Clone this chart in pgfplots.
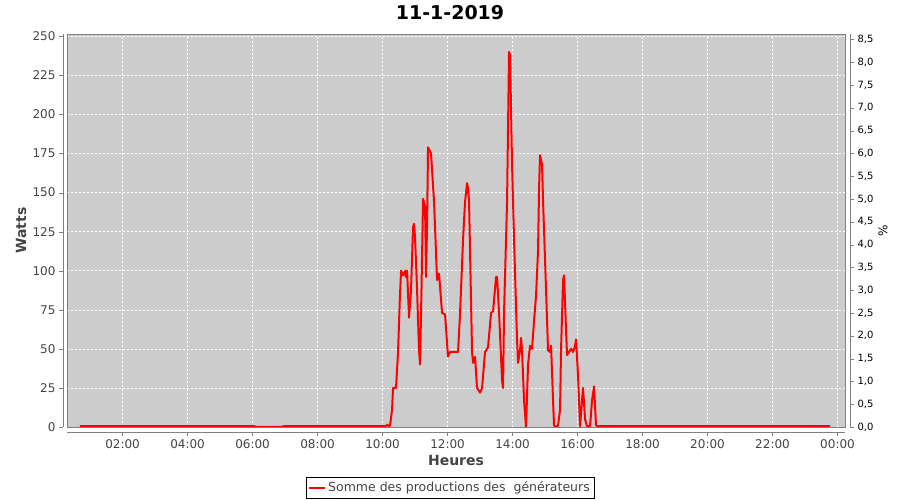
\documentclass[border=0pt]{standalone}
\usepackage{fontspec}
\setmainfont{DejaVu Sans}
\usepackage{pgfplots}
\pgfplotsset{compat=1.18}
\definecolor{plotbg}{RGB}{204,204,204}
\definecolor{axgray}{RGB}{128,128,128}
\definecolor{txtgray}{RGB}{68,68,68}
\definecolor{linered}{RGB}{255,0,0}
\begin{document}
\begin{tikzpicture}
\begin{axis}[name=ax,
 scale only axis, width=778pt, height=393pt,
 xmin=0.29, xmax=24.23, ymin=0, ymax=251.5,
 xtick={2,4,...,24},
 xticklabels={02:00,04:00,06:00,08:00,10:00,12:00,14:00,16:00,18:00,20:00,22:00,00:00},
 ytick={0,25,...,250},
 xtick pos=left, ytick pos=left,
 tick align=outside, major tick length=4pt,
 axis line style={draw=none},
 axis background/.style={fill=plotbg},
 grid=major,
 major grid style={white, line width=0.6pt, dash pattern=on 2pt off 2pt},
 xtick style={draw=axgray, yshift=-5pt},
 ytick style={draw=axgray, xshift=-4pt},
 tick label style={font=\fontsize{12}{14}\selectfont, text=txtgray},
 xticklabel style={yshift=-5pt},
 yticklabel style={xshift=-4pt},
 /pgf/number format/assume math mode=true,
 every axis title shift=0pt,
 title={11-1-2019},
 title style={font=\fontsize{19}{21}\selectfont\bfseries, at={(axis description cs:0.4923,1.0534)}, anchor=center},
 xlabel={Heures},
 xlabel style={font=\fontsize{14}{16}\selectfont\bfseries, text=txtgray, at={(axis description cs:0.5,-0.084)}, anchor=center},
 ylabel={Watts},
 ylabel style={font=\fontsize{14}{16}\selectfont\bfseries, text=txtgray, at={(axis description cs:-0.059,0.5)}, anchor=center},
 legend style={at={(axis description cs:0.4923,-0.154)}, anchor=center, draw=black, fill=white, font=\fontsize{12.5}{15}\selectfont, text=txtgray, inner xsep=2pt, inner ysep=2.5pt},
 legend cell align=left,
 legend image code/.code={\draw[#1] (0pt,0pt) -- (16pt,0pt);},
]
\addplot[linered, line width=2pt, line join=round] coordinates {
(0.69,0.5) (6.05,0.5) (6.1,0) (6.9,0) (6.95,0.5) (10.1,0.5) (10.15,1.5) (10.2,0.5)
(10.231,1) (10.292,11) (10.323,25) (10.415,25) (10.477,48) (10.53,81) (10.569,100)
(10.631,97) (10.692,100) (10.72,96) (10.754,100) (10.815,70) (10.877,88) (10.938,128)
(10.97,130) (11.0,121) (11.062,88) (11.12,50) (11.154,40) (11.2,90) (11.246,146)
(11.308,141) (11.338,96) (11.37,130) (11.400,179) (11.492,175) (11.585,144) (11.677,94)
(11.738,98) (11.831,73) (11.923,72) (12.015,45) (12.077,48) (12.231,48) (12.323,48)
(12.385,73) (12.477,120) (12.538,144) (12.600,156) (12.631,153) (12.662,144) (12.754,48)
(12.785,41) (12.846,45) (12.908,25) (13.000,22) (13.062,25) (13.154,48) (13.246,51)
(13.338,73) (13.400,74) (13.492,96) (13.523,96) (13.585,73) (13.677,30) (13.708,25)
(13.738,73) (13.831,144) (13.892,240) (13.923,238) (13.985,168) (14.046,120) (14.138,56)
(14.169,41) (14.231,49) (14.262,57) (14.292,49) (14.354,17) (14.415,0) (14.477,40)
(14.538,52) (14.600,50) (14.662,68) (14.723,84) (14.785,113) (14.815,152) (14.846,174)
(14.908,168) (14.938,145) (15.000,107) (15.062,68) (15.092,49) (15.154,48) (15.185,52)
(15.246,17) (15.277,1) (15.338,0) (15.400,1) (15.462,11) (15.492,49) (15.554,94)
(15.585,97) (15.646,62) (15.677,46) (15.738,48) (15.800,50) (15.862,48) (15.923,52)
(15.954,56) (16.015,33) (16.077,0.5) (16.169,25) (16.231,5) (16.292,0.5) (16.385,0.5)
(16.446,17) (16.508,26) (16.569,1) (16.631,0.5) (23.77,0.5)
};
\addlegendentry{Somme des productions des\ \ générateurs}
\end{axis}
\begin{axis}[at={(ax.south west)}, anchor=south west,
 scale only axis, width=778pt, height=393pt,
 xmin=0, xmax=1, ymin=0, ymax=8.62,
 hide x axis, axis line style={draw=none},
 ytick pos=right, ytick={0,0.5,...,8.5},
 tick align=outside, major tick length=4pt,
 ytick style={draw=axgray, xshift=5pt},
 /pgf/number format/assume math mode=true,
 yticklabel style={xshift=5pt, font=\fontsize{10}{12}\selectfont, text=black, /pgf/number format/.cd, fixed, fixed zerofill, precision=1, use comma},
 ylabel={\%},
 ylabel style={font=\fontsize{12}{14}\selectfont, text=black, at={(axis description cs:1.0488,0.5)}, anchor=center, rotate=0},
]
\addplot[draw=none] coordinates {(0,0)};
\end{axis}
\draw[axgray] (ax.south west) rectangle (ax.north east);
\draw[axgray] ([xshift=-4pt]ax.south west) -- ([xshift=-4pt]ax.north west);
\draw[axgray] ([yshift=-5pt]ax.south west) -- ([yshift=-5pt]ax.south east);
\draw[axgray] ([xshift=5pt]ax.south east) -- ([xshift=5pt]ax.north east);
\pgfresetboundingbox
\path ([shift={(-67pt,-73pt)}]ax.south west) rectangle ([shift={(55pt,34pt)}]ax.north east);
\end{tikzpicture}
\end{document}
